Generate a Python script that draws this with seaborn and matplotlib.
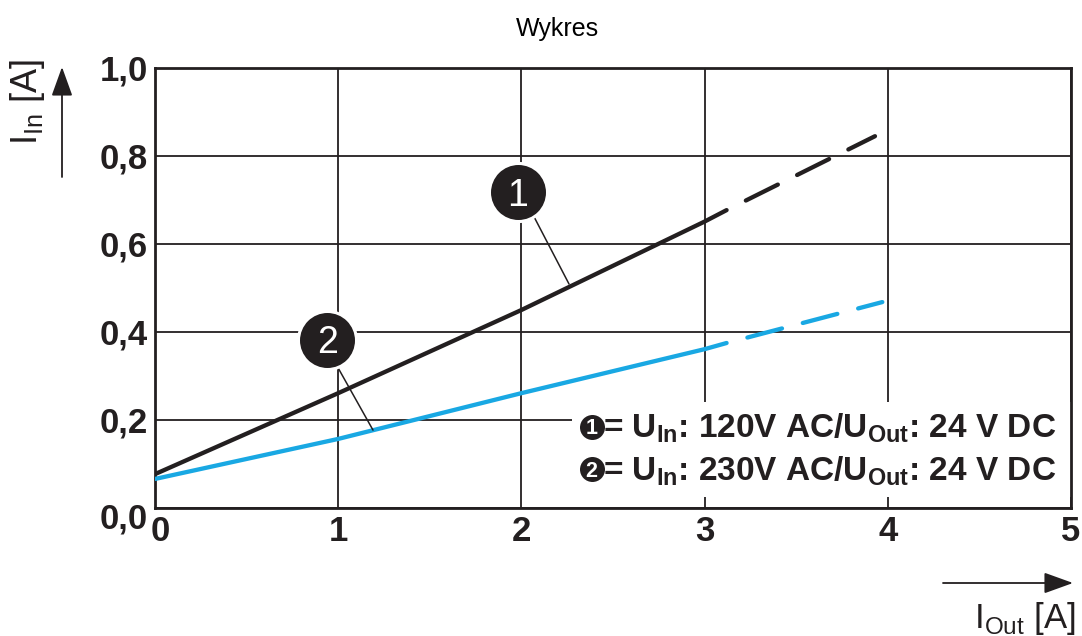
import matplotlib
matplotlib.use("Agg")
import matplotlib.pyplot as plt
import matplotlib.transforms as mtransforms
from matplotlib.patches import Rectangle, FancyArrowPatch
import seaborn as sns

# Input current I_In versus output current I_Out for two supply voltages
out_current_1_solid = [0.0, 1.0, 2.0, 3.0, 3.12]
in_current_1_solid = [0.077, 0.261, 0.450, 0.651, 0.677]
out_current_1_dashed = [3.12, 3.93]
in_current_1_dashed = [0.677, 0.845]

out_current_2_solid = [0.0, 1.0, 2.0, 3.0, 3.12]
in_current_2_solid = [0.066, 0.157, 0.261, 0.361, 0.375]
out_current_2_dashed = [3.12, 3.97]
in_current_2_dashed = [0.375, 0.468]

x_ticks = [0, 1, 2, 3, 4, 5]
x_tick_labels = ["0", "1", "2", "3", "4", "5"]
y_ticks = [0.0, 0.2, 0.4, 0.6, 0.8, 1.0]
y_tick_labels = ["0,0", "0,2", "0,4", "0,6", "0,8", "1,0"]

curve_ids = ["1", "2"]
legend_texts = [
    r"= U$_{\mathregular{In}}$: 120V AC/U$_{\mathregular{Out}}$: 24 V DC",
    r"= U$_{\mathregular{In}}$: 230V AC/U$_{\mathregular{Out}}$: 24 V DC",
]
title_text = "Wykres"
y_label = r"I$_{\mathregular{In}}$ [A]"
x_label = r"I$_{\mathregular{Out}}$ [A]"

INK = "#231F20"
BLUE = "#19A8E3"

sns.set_theme(style="white")
plt.rcParams["font.family"] = ["Liberation Sans", "DejaVu Sans"]
plt.rcParams["mathtext.fontset"] = "custom"
plt.rcParams["mathtext.rm"] = "Liberation Sans"
plt.rcParams["mathtext.bf"] = "Liberation Sans:bold"

fig = plt.figure(figsize=(10.82, 6.36), dpi=100)
W, H = 1082, 636
ax = fig.add_axes([155 / W, 128 / H, 916 / W, 440 / H])
ax.set_xlim(0, 5)
ax.set_ylim(0, 1.0)

# grid and frame
ax.set_axisbelow(True)
ax.grid(True, color=INK, linewidth=1.3)
for side in ["left", "right", "top", "bottom"]:
    ax.spines[side].set_visible(True)
    ax.spines[side].set_color(INK)
    ax.spines[side].set_linewidth(2.0)
ax.tick_params(length=0)

ax.set_xticks(x_ticks)
ax.set_xticklabels(x_tick_labels, fontsize=25, fontweight="bold", color=INK)
ax.set_yticks(y_ticks)
ax.set_yticklabels(y_tick_labels, fontsize=25, fontweight="bold", color=INK)
ax.tick_params(axis="x", pad=5)
ax.tick_params(axis="y", pad=5)

# nudge the corner labels apart
lbl = ax.get_xticklabels()[0]
lbl.set_transform(lbl.get_transform() + mtransforms.ScaledTranslation(0.05, 0, fig.dpi_scale_trans))
lbl = ax.get_yticklabels()[0]
lbl.set_transform(lbl.get_transform() + mtransforms.ScaledTranslation(0, -0.07, fig.dpi_scale_trans))

# white panel behind the legend text
ax.add_patch(Rectangle((2.276, 0.025), 5 - 2.276, 0.24 - 0.025,
                       facecolor="white", edgecolor="none", zorder=1))

# curves: solid measured part, dashed extension
lw = 3.1
dash = (8.3, (8.3, 5.0))
sns.lineplot(x=out_current_1_solid, y=in_current_1_solid, color=INK, linewidth=lw,
             solid_capstyle="round", ax=ax, zorder=3)
sns.lineplot(x=out_current_1_dashed, y=in_current_1_dashed, color=INK, linewidth=lw,
             linestyle=dash, dash_capstyle="round", ax=ax, zorder=3)
sns.lineplot(x=out_current_2_solid, y=in_current_2_solid, color=BLUE, linewidth=lw,
             solid_capstyle="round", ax=ax, zorder=3)
sns.lineplot(x=out_current_2_dashed, y=in_current_2_dashed, color=BLUE, linewidth=lw,
             linestyle=dash, dash_capstyle="round", ax=ax, zorder=3)

# numbered call-outs with leader lines
callouts = [
    ((1.98, 0.718), (2.07, 0.661), (2.26, 0.509)),
    ((0.94, 0.382), (1.00, 0.318), (1.19, 0.177)),
]
for cid, (centre, start, end) in zip(curve_ids, callouts):
    ax.plot([start[0], end[0]], [start[1], end[1]], color=INK, linewidth=1.1, zorder=4)
    ax.plot(centre[0], centre[1], marker="o", markersize=41.8, markerfacecolor=INK,
            markeredgecolor="white", markeredgewidth=2.2, zorder=5, clip_on=False)
    ax.annotate(cid, xy=centre, xytext=(0, -9.7), textcoords="offset points",
                ha="center", va="baseline", color="white", fontsize=27, zorder=6)

# legend rows
legend_rows = [(2.383, 0.185, 0.161), (2.383, 0.088, 0.064)]
for cid, text, (cx, cy, by) in zip(curve_ids, legend_texts, legend_rows):
    ax.plot(cx, cy, marker="o", markersize=18, markeredgewidth=0, color=INK, zorder=5)
    ax.annotate(cid, xy=(cx, cy), xytext=(0, -5.6), textcoords="offset points",
                ha="center", va="baseline", color="white", fontsize=15.5,
                fontweight="bold", zorder=6)
    ax.text(2.445, by, text, ha="left", va="baseline", fontsize=24,
            fontweight="bold", color=INK, zorder=6)

# title and axis labels with arrows
fig.text(557 / W, 1 - 36 / H, title_text, ha="center", va="baseline", fontsize=18, color="black")
fig.text(37 / W, 1 - 145 / H, y_label, rotation=90, rotation_mode="anchor",
         ha="left", va="baseline", fontsize=26, color=INK)
fig.text(974 / W, 1 - 628 / H, x_label, ha="left", va="baseline", fontsize=25, color=INK)

arrow_kw = dict(arrowstyle="-|>,head_length=18,head_width=6.5", color=INK,
                linewidth=1.3, shrinkA=0, shrinkB=0, mutation_scale=1)
fig.add_artist(FancyArrowPatch((62, H - 177), (62, H - 67), transform=None, **arrow_kw))
fig.add_artist(FancyArrowPatch((943, H - 583), (1073, H - 583), transform=None, **arrow_kw))

fig.savefig("out.png", dpi=100)
